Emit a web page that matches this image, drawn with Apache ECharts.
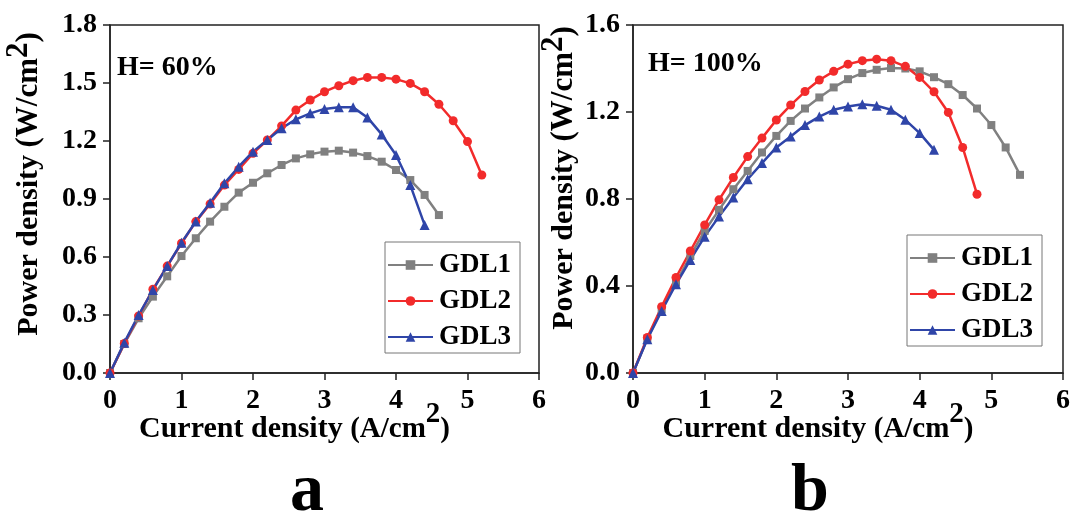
<!DOCTYPE html>
<html>
<head>
<meta charset="utf-8">
<script src="https://cdn.jsdelivr.net/npm/echarts@6/dist/echarts.min.js"></script>
<style>
  html, body { margin: 0; padding: 0; background: #fff; }
  #chart { width: 1073px; height: 516px; }
</style>
</head>
<body>
<div id="chart"></div>
<script>
// Current density steps (A/cm2)
const currentA = [0, 0.2, 0.4, 0.6, 0.8, 1.0, 1.2, 1.4, 1.6, 1.8, 2.0, 2.2, 2.4, 2.6, 2.8, 3.0, 3.2, 3.4, 3.6, 3.8, 4.0, 4.2, 4.4, 4.6, 4.8, 5.0, 5.2, 5.4];

// Panel a: H = 60 %  power density (W/cm2)
const a_GDL1 = [0, 0.15, 0.283, 0.395, 0.50, 0.605, 0.697, 0.783, 0.86, 0.933, 0.984, 1.033, 1.076, 1.11, 1.131, 1.145, 1.15, 1.14, 1.122, 1.093, 1.05, 0.998, 0.921, 0.817];
const a_GDL2 = [0, 0.153, 0.295, 0.433, 0.553, 0.671, 0.783, 0.874, 0.972, 1.053, 1.136, 1.205, 1.278, 1.36, 1.412, 1.455, 1.486, 1.512, 1.529, 1.529, 1.52, 1.498, 1.455, 1.39, 1.305, 1.197, 1.024];
const a_GDL3 = [0, 0.157, 0.30, 0.429, 0.553, 0.674, 0.783, 0.881, 0.981, 1.067, 1.145, 1.205, 1.266, 1.312, 1.343, 1.366, 1.374, 1.374, 1.322, 1.234, 1.128, 0.972, 0.766];

// Panel b: H = 100 %  power density (W/cm2)
const b_GDL1 = [0, 0.158, 0.293, 0.416, 0.538, 0.653, 0.75, 0.845, 0.929, 1.014, 1.09, 1.159, 1.216, 1.267, 1.313, 1.351, 1.379, 1.394, 1.402, 1.40, 1.387, 1.36, 1.328, 1.278, 1.216, 1.14, 1.037, 0.911];
const b_GDL2 = [0, 0.163, 0.305, 0.439, 0.561, 0.681, 0.796, 0.899, 0.995, 1.08, 1.163, 1.232, 1.294, 1.347, 1.387, 1.42, 1.436, 1.443, 1.436, 1.41, 1.359, 1.293, 1.198, 1.037, 0.822];
const b_GDL3 = [0, 0.155, 0.285, 0.408, 0.52, 0.627, 0.719, 0.807, 0.891, 0.965, 1.037, 1.087, 1.14, 1.179, 1.21, 1.225, 1.236, 1.229, 1.21, 1.164, 1.103, 1.026];

const seriesNames = ['GDL1', 'GDL2', 'GDL3'];
const panelLabels = ['a', 'b'];
const humidityLabels = ['H= 60%', 'H= 100%'];
const yTicksA = { min: 0, max: 1.8, interval: 0.3 };
const yTicksB = { min: 0, max: 1.6, interval: 0.4 };

const FONT = '"Liberation Serif", "Times New Roman", serif';
const colors = ['#808080', '#f22b2b', '#2f45a8'];
const symbols = ['rect', 'circle', 'triangle'];
const symbolSizes = [8, 9, 10];

function pairs(ys) { return ys.map((v, i) => [currentA[i], v]); }

function richName(main, unit, raise) {
  return {
    t: { fontFamily: FONT, fontWeight: 'bold', fontSize: main, color: '#000', verticalAlign: 'bottom' },
    u: { fontFamily: FONT, fontWeight: 'bold', fontSize: unit, color: '#000', verticalAlign: 'bottom' },
    s: { fontFamily: FONT, fontWeight: 'bold', fontSize: unit, color: '#000', verticalAlign: 'bottom', padding: [0, 0, raise, 0] }
  };
}

function xAxisFor(i) {
  return {
    type: 'value', gridIndex: i, min: 0, max: 6, interval: 1,
    name: '{t|Current density }{u|(A/cm}{s|2}{u|)}',
    nameLocation: 'middle', nameGap: 27, nameMoveOverlap: false,
    nameTextStyle: { rich: richName(30, 29, 15), padding: [0, 60, 0, 0] },
    axisLine: { show: true, lineStyle: { color: '#222', width: 1.5 } },
    axisTick: { show: true, inside: false, length: 7, lineStyle: { color: '#222', width: 1.5 } },
    axisLabel: { fontFamily: FONT, fontWeight: 'bold', fontSize: 28, color: '#000', margin: 14 },
    splitLine: { show: false }
  };
}

function yAxisFor(i, t, gap, shift) {
  return {
    type: 'value', gridIndex: i, min: t.min, max: t.max, interval: t.interval,
    name: '{t|Power density }{u|(W/cm}{s|2}{u|)}',
    nameLocation: 'middle', nameGap: gap, nameMoveOverlap: false,
    nameTextStyle: { rich: richName(30, 31, 10), padding: [0, 0, 0, shift] },
    axisLine: { show: true, lineStyle: { color: '#222', width: 1.5 } },
    axisTick: { show: true, inside: false, length: 7, lineStyle: { color: '#222', width: 1.5 } },
    axisLabel: { fontFamily: FONT, fontWeight: 'bold', fontSize: 28, color: '#000', margin: 13,
                 formatter: v => v.toFixed(1) },
    splitLine: { show: false }
  };
}

function lineSeries(name, k, data, gi) {
  return {
    name: name, type: 'line', xAxisIndex: gi, yAxisIndex: gi,
    data: pairs(data),
    symbol: symbols[k], symbolSize: symbolSizes[k],
    showAllSymbol: true,
    lineStyle: { color: colors[k], width: 2.5 },
    itemStyle: { color: colors[k] },
    emphasis: { disabled: true },
    animation: false
  };
}

function legendFor(left, top) {
  return {
    orient: 'vertical', left: left, top: top,
    data: seriesNames,
    itemWidth: 45, itemHeight: 12, itemGap: 6,
    borderColor: '#777', borderWidth: 1, borderRadius: 0,
    padding: [8, 9, 1, 2],
    textStyle: { fontFamily: FONT, fontWeight: 'bold', fontSize: 27, color: '#000', lineHeight: 30, padding: [0, 0, 0, 1] },
    selectedMode: false
  };
}

const chart = echarts.init(document.getElementById('chart'), null, { renderer: 'canvas' });
chart.setOption({
  backgroundColor: '#fff',
  animation: false,
  grid: [
    { left: 110, top: 25, width: 429, height: 348, show: true, borderColor: '#222', borderWidth: 1.5, backgroundColor: 'transparent' },
    { left: 633, top: 25, width: 430, height: 348, show: true, borderColor: '#222', borderWidth: 1.5, backgroundColor: 'transparent' }
  ],
  xAxis: [xAxisFor(0), xAxisFor(1)],
  yAxis: [yAxisFor(0, yTicksA, 66, 30), yAxisFor(1, yTicksB, 54, 42)],
  legend: [legendFor(385, 242), legendFor(907, 235)],
  series: [
    lineSeries(seriesNames[0], 0, a_GDL1, 0),
    lineSeries(seriesNames[1], 1, a_GDL2, 0),
    lineSeries(seriesNames[2], 2, a_GDL3, 0),
    lineSeries(seriesNames[0], 0, b_GDL1, 1),
    lineSeries(seriesNames[1], 1, b_GDL2, 1),
    lineSeries(seriesNames[2], 2, b_GDL3, 1)
  ],
  graphic: [
    { type: 'text', left: 117, top: 54, style: { text: humidityLabels[0], font: 'bold 28px ' + FONT, fill: '#000' } },
    { type: 'text', left: 648, top: 50, style: { text: humidityLabels[1], font: 'bold 28px ' + FONT, fill: '#000' } },
    { type: 'text', x: 307, y: 492, style: { text: panelLabels[0], font: 'bold 68px ' + FONT, fill: '#000', align: 'center', verticalAlign: 'middle' } },
    { type: 'text', x: 810, y: 492, style: { text: panelLabels[1], font: 'bold 68px ' + FONT, fill: '#000', align: 'center', verticalAlign: 'middle' } }
  ]
});
</script>
</body>
</html>
